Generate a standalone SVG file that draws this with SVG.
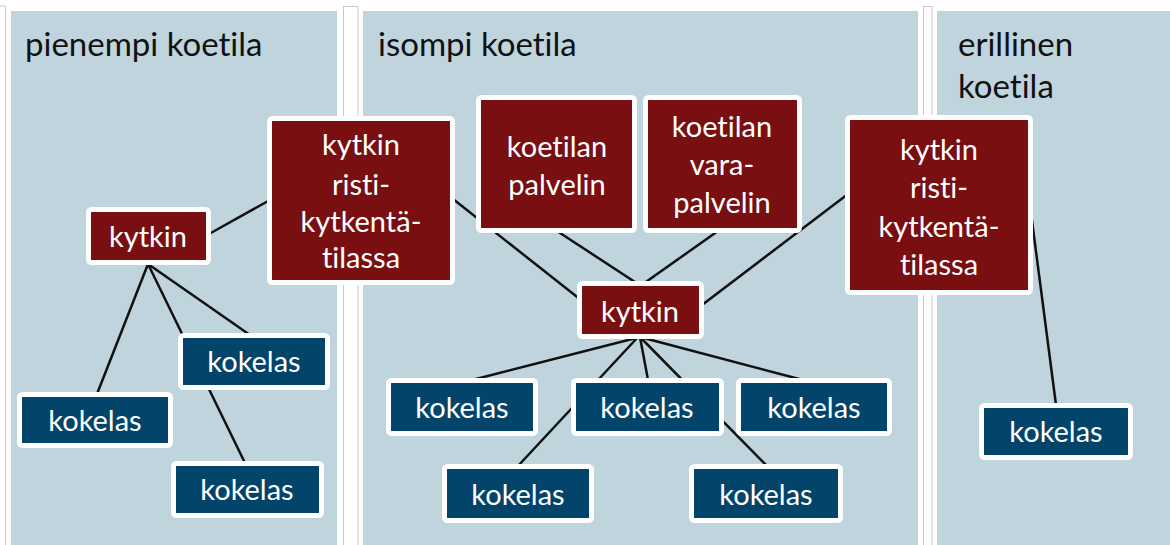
<svg xmlns="http://www.w3.org/2000/svg" width="1170" height="545" viewBox="0 0 1170 545">
<style>
.panel{fill:#c0d4dd}
.sep{fill:#ffffff;stroke:#c9c9c9;stroke-width:1}
.title{font-family:Lato,"Open Sans",sans-serif;font-size:33px;fill:#111111;font-variant-ligatures:none}
.red{fill:#7a0f12;stroke:#ffffff;stroke-width:5}
.blue{fill:#03446b;stroke:#ffffff;stroke-width:5}
.lbl{font-family:Lato,"Open Sans",sans-serif;font-size:29px;fill:#ffffff;text-anchor:middle;font-variant-ligatures:none}
.conn line{stroke:#111111;stroke-width:2.5}
</style>
<rect width="1170" height="545" fill="#ffffff"/>
<g id="panels">
<rect class="sep" x="-10" y="6" width="15.5" height="560"/>
<rect class="panel" x="11" y="11" width="326" height="540"/>
<rect class="sep" x="343.5" y="6.5" width="14.5" height="560"/>
<rect class="panel" x="363" y="11" width="555" height="540"/>
<rect class="sep" x="923.5" y="6.5" width="8.5" height="560"/>
<rect class="panel" x="937" y="11" width="240" height="540"/>
<text class="title" x="25" y="56">pienempi koetila</text>
<text class="title" x="378" y="56">isompi koetila</text>
<text class="title" x="958" y="56">erillinen</text>
<text class="title" x="958" y="98">koetila</text>
</g>
<g id="connectors" class="conn">
<line x1="209" y1="234" x2="270" y2="200"/>
<line x1="148" y1="264" x2="97" y2="394"/>
<line x1="148" y1="264" x2="245" y2="463"/>
<line x1="148" y1="264" x2="250" y2="335"/>
<line x1="453" y1="199" x2="581" y2="300"/>
<line x1="557" y1="231" x2="638" y2="284"/>
<line x1="718" y1="231" x2="643" y2="284"/>
<line x1="848" y1="194" x2="702" y2="305"/>
<line x1="640" y1="337" x2="472" y2="380"/>
<line x1="638" y1="337" x2="518" y2="466"/>
<line x1="640" y1="337" x2="648" y2="380"/>
<line x1="640" y1="337" x2="767" y2="466"/>
<line x1="640" y1="337" x2="803" y2="380"/>
<line x1="1031" y1="213" x2="1056" y2="405"/>
</g>
<g id="crossL"><rect class="red" x="269.5" y="118.5" width="183" height="164" rx="3"/>
<text class="lbl" x="361" y="155">kytkin</text><text class="lbl" x="361" y="195">risti-</text><text class="lbl" x="361" y="232">kytkentä-</text><text class="lbl" x="361" y="268">tilassa</text></g>
<g id="crossR"><rect class="red" x="847.5" y="117.5" width="183" height="175" rx="3"/>
<text class="lbl" x="939" y="160">kytkin</text><text class="lbl" x="939" y="198">risti-</text><text class="lbl" x="939" y="237">kytkentä-</text><text class="lbl" x="939" y="275">tilassa</text></g>
<g id="server1"><rect class="red" x="478.5" y="97.5" width="156" height="133" rx="3"/>
<text class="lbl" x="557" y="157">koetilan</text><text class="lbl" x="557" y="195">palvelin</text></g>
<g id="server2"><rect class="red" x="645.5" y="97.5" width="154" height="133" rx="3"/>
<text class="lbl" x="722" y="137">koetilan</text><text class="lbl" x="722" y="175">vara-</text><text class="lbl" x="722" y="213">palvelin</text></g>
<g id="kytkinC"><rect class="red" x="579.5" y="283.5" width="122" height="53" rx="3"/>
<text class="lbl" x="640" y="322">kytkin</text></g>
<g id="kytkinL"><rect class="red" x="88.5" y="209.5" width="120" height="53" rx="3"/>
<text class="lbl" x="148" y="247">kytkin</text></g>
<g id="L1"><rect class="blue" x="19.5" y="394.5" width="151" height="51" rx="3"/><text class="lbl" x="95" y="431">kokelas</text></g>
<g id="L2"><rect class="blue" x="180.5" y="335.5" width="147" height="52" rx="3"/><text class="lbl" x="254" y="372">kokelas</text></g>
<g id="L3"><rect class="blue" x="173.5" y="463.5" width="148" height="52" rx="3"/><text class="lbl" x="247" y="500">kokelas</text></g>
<g id="K1"><rect class="blue" x="388.5" y="380.5" width="147" height="53" rx="3"/><text class="lbl" x="462" y="418">kokelas</text></g>
<g id="K2"><rect class="blue" x="573.5" y="380.5" width="148" height="53" rx="3"/><text class="lbl" x="647" y="418">kokelas</text></g>
<g id="K3"><rect class="blue" x="738.5" y="380.5" width="151" height="53" rx="3"/><text class="lbl" x="814" y="418">kokelas</text></g>
<g id="K4"><rect class="blue" x="444.5" y="466.5" width="147" height="54" rx="3"/><text class="lbl" x="518" y="505">kokelas</text></g>
<g id="K5"><rect class="blue" x="691.5" y="466.5" width="149" height="54" rx="3"/><text class="lbl" x="766" y="505">kokelas</text></g>
<g id="R1"><rect class="blue" x="981.5" y="405.5" width="149" height="52" rx="3"/><text class="lbl" x="1056" y="442">kokelas</text></g>
</svg>
